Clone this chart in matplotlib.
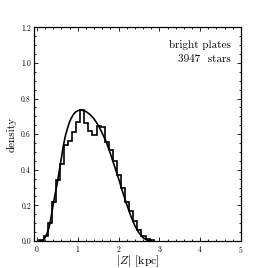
import matplotlib
matplotlib.use("Agg")
import matplotlib.pyplot as plt
import numpy as np

plt.rcParams['font.family'] = ['cmr10', 'DejaVu Serif']
plt.rcParams['mathtext.fontset'] = 'cm'
plt.rcParams['axes.formatter.use_mathtext'] = True

# histogram (bin edges and densities)
hist_vals = [0.005, 0.03, 0.10, 0.22, 0.34, 0.43, 0.54, 0.56, 0.61, 0.67,
             0.735, 0.665, 0.62, 0.595, 0.645, 0.64, 0.555, 0.51, 0.45, 0.37,
             0.30, 0.22, 0.17, 0.11, 0.06, 0.03, 0.012, 0.004]
bin_edges = [0.06 + 0.1 * k for k in range(len(hist_vals) + 1)]

# model curve
curve_x = [0.10, 0.15, 0.2, 0.25, 0.3, 0.35, 0.4, 0.45, 0.5, 0.55, 0.6, 0.65, 0.7, 0.75,
           0.8, 0.85, 0.9, 0.95, 1.0, 1.05, 1.1, 1.15, 1.2, 1.3, 1.4, 1.5, 1.6, 1.7,
           1.8, 1.9, 2.0, 2.1, 2.2, 2.3, 2.4, 2.5, 2.6, 2.7, 2.8]
curve_y = [0.0, 0.005, 0.02, 0.045, 0.08, 0.14, 0.21, 0.27, 0.33, 0.40, 0.47, 0.54,
           0.595, 0.635, 0.67, 0.695, 0.713, 0.725, 0.732, 0.735, 0.734, 0.732, 0.727,
           0.71, 0.685, 0.65, 0.605, 0.555, 0.49, 0.42, 0.35, 0.275, 0.205, 0.14,
           0.085, 0.045, 0.018, 0.004, 0.0]

fig = plt.figure(figsize=(2.68, 2.68), dpi=100)
ax = fig.add_axes([0.126, 0.101, 0.773, 0.797])

ax.stairs(hist_vals, bin_edges, color='black', lw=1.2)
ax.plot(curve_x, curve_y, color='black', lw=1.2)

ax.set_xlim(-0.08, 5)
ax.set_ylim(0, 1.2)
ax.set_xticks([0, 1, 2, 3, 4, 5])
ax.set_yticks([0.0, 0.2, 0.4, 0.6, 0.8, 1.0, 1.2])
ax.set_yticklabels(['0.0', '0.2', '0.4', '0.6', '0.8', '1.0', '1.2'])
ax.xaxis.set_minor_locator(matplotlib.ticker.MultipleLocator(0.2))
ax.yaxis.set_minor_locator(matplotlib.ticker.MultipleLocator(0.05))
ax.tick_params(which='both', direction='in', top=True, right=True, labelsize=5.5, width=0.6)
ax.tick_params(which='major', length=3, pad=2)
ax.tick_params(which='minor', length=1.5)
for s in ax.spines.values():
    s.set_linewidth(0.9)

ax.set_xlabel(r'$|Z|$ [kpc]', fontsize=8.5, labelpad=-1)
ax.set_ylabel('density', fontsize=8, labelpad=3)

ax.text(0.95, 0.94, 'bright plates', transform=ax.transAxes, ha='right', va='top', fontsize=8)
ax.text(0.95, 0.875, '3947  stars', transform=ax.transAxes, ha='right', va='top', fontsize=8)

fig.savefig('out.png', dpi=100)
